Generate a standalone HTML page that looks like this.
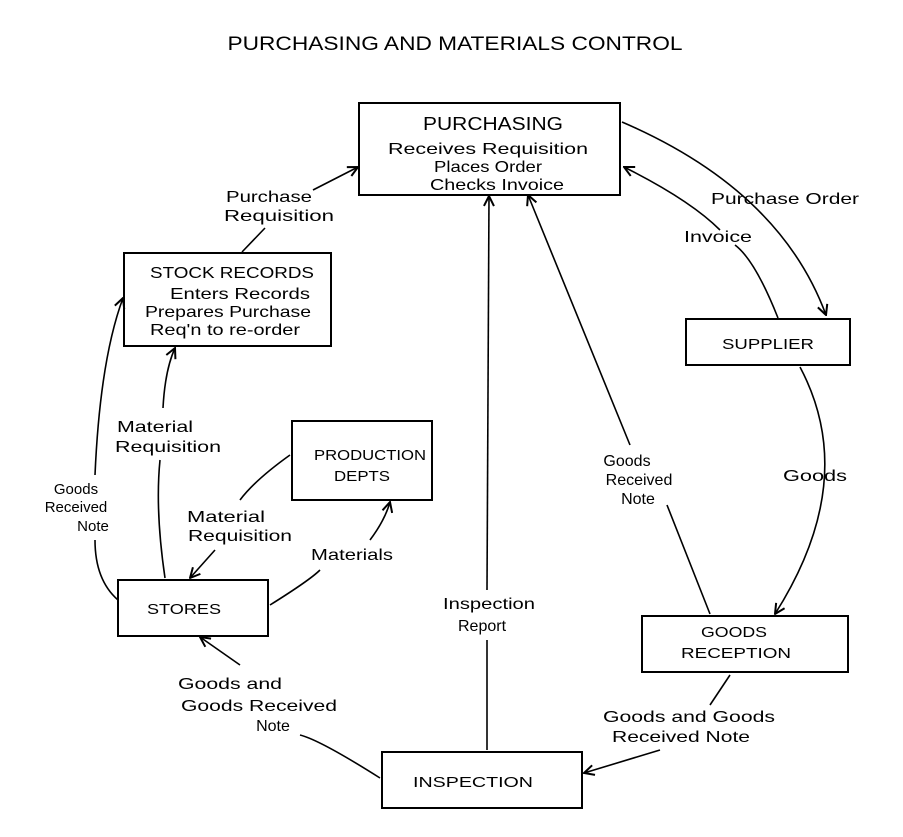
<!DOCTYPE html>
<html><head><meta charset="utf-8"><style>
html,body{margin:0;padding:0;background:#fff;}
svg{display:block;}
text{font-family:"Liberation Sans",sans-serif;fill:#000;}
</style></head><body>
<svg width="903" height="837" viewBox="0 0 903 837" xmlns="http://www.w3.org/2000/svg">
<defs>
<marker id="a" viewBox="0 0 12 12" refX="11" refY="6" markerWidth="12" markerHeight="12" markerUnits="userSpaceOnUse" orient="auto">
<path d="M1,1 L11,6 L1,11" fill="none" stroke="#000" stroke-width="2"/>
</marker>
</defs>
<g fill="none" stroke="#000" stroke-width="2">
<rect x="359" y="103" width="261" height="92"/>
<rect x="124" y="253" width="207" height="93"/>
<rect x="686" y="319" width="164" height="46"/>
<rect x="292" y="421" width="140" height="79"/>
<rect x="118" y="580" width="150" height="56"/>
<rect x="642" y="616" width="206" height="56"/>
<rect x="382" y="752" width="200" height="56"/>
</g>
<g fill="none" stroke="#000" stroke-width="1.6">
<path d="M242,252 L265,228" />
<path d="M313,190 L358,167" marker-end="url(#a)"/>
<path d="M622,122 Q780,190 826,315" marker-end="url(#a)"/>
<path d="M778,318 Q755,260 735,245 M720,230 Q690,200 624,167" marker-end="url(#a)"/>
<path d="M800,367 Q860,480 775,614" marker-end="url(#a)"/>
<path d="M710,614 L667,505"/>
<path d="M630,445 L528,195" marker-end="url(#a)"/>
<path d="M487,750 L487,640"/>
<path d="M487,590 L489,196" marker-end="url(#a)"/>
<path d="M730,675 L710,705"/>
<path d="M660,750 L584,773" marker-end="url(#a)"/>
<path d="M380,778 Q320,740 300,735"/>
<path d="M240,665 L200,637" marker-end="url(#a)"/>
<path d="M270,605 Q310,580 320,570 M370,540 Q385,520 390,502" marker-end="url(#a)"/>
<path d="M290,455 Q255,480 240,500"/>
<path d="M215,550 L190,578" marker-end="url(#a)"/>
<path d="M165,578 Q155,510 160,460"/>
<path d="M163,408 Q165,370 175,348" marker-end="url(#a)"/>
<path d="M118,600 Q95,580 95,540"/>
<path d="M95,475 Q100,360 123,298" marker-end="url(#a)"/>
</g>
<g font-size="16" text-anchor="middle">
<text x="455" y="50" font-size="19" textLength="455" lengthAdjust="spacingAndGlyphs">PURCHASING AND MATERIALS CONTROL</text>
<text x="493" y="130" font-size="18" textLength="140" lengthAdjust="spacingAndGlyphs">PURCHASING</text>
<text x="488" y="154" textLength="200" lengthAdjust="spacingAndGlyphs">Receives Requisition</text>
<text x="488" y="172" textLength="108" lengthAdjust="spacingAndGlyphs">Places Order</text>
<text x="497" y="190" textLength="134" lengthAdjust="spacingAndGlyphs">Checks Invoice</text>
<text x="232" y="278" textLength="164" lengthAdjust="spacingAndGlyphs">STOCK RECORDS</text>
<text x="240" y="299" textLength="140" lengthAdjust="spacingAndGlyphs">Enters Records</text>
<text x="228" y="317" textLength="166" lengthAdjust="spacingAndGlyphs">Prepares Purchase</text>
<text x="225" y="335" textLength="150" lengthAdjust="spacingAndGlyphs">Req'n to re-order</text>
<text x="768" y="349" font-size="15" textLength="92" lengthAdjust="spacingAndGlyphs">SUPPLIER</text>
<text x="370" y="460" font-size="15" textLength="112" lengthAdjust="spacingAndGlyphs">PRODUCTION</text>
<text x="362" y="481" font-size="15" textLength="56" lengthAdjust="spacingAndGlyphs">DEPTS</text>
<text x="184" y="614" font-size="15" textLength="74" lengthAdjust="spacingAndGlyphs">STORES</text>
<text x="734" y="637" font-size="15" textLength="66" lengthAdjust="spacingAndGlyphs">GOODS</text>
<text x="736" y="658" font-size="15" textLength="110" lengthAdjust="spacingAndGlyphs">RECEPTION</text>
<text x="473" y="787" font-size="15" textLength="120" lengthAdjust="spacingAndGlyphs">INSPECTION</text>
<text x="269" y="202" textLength="86" lengthAdjust="spacingAndGlyphs">Purchase</text>
<text x="279" y="221" textLength="110" lengthAdjust="spacingAndGlyphs">Requisition</text>
<text x="785" y="204" textLength="148" lengthAdjust="spacingAndGlyphs">Purchase Order</text>
<text x="718" y="242" textLength="68" lengthAdjust="spacingAndGlyphs">Invoice</text>
<text x="815" y="481" textLength="64" lengthAdjust="spacingAndGlyphs">Goods</text>
<text x="627" y="466">Goods</text>
<text x="639" y="485">Received</text>
<text x="638" y="504">Note</text>
<text x="489" y="609" textLength="92" lengthAdjust="spacingAndGlyphs">Inspection</text>
<text x="482" y="631">Report</text>
<text x="689" y="722" textLength="172" lengthAdjust="spacingAndGlyphs">Goods and Goods</text>
<text x="681" y="742" textLength="138" lengthAdjust="spacingAndGlyphs">Received Note</text>
<text x="230" y="689" textLength="104" lengthAdjust="spacingAndGlyphs">Goods and</text>
<text x="259" y="711" textLength="156" lengthAdjust="spacingAndGlyphs">Goods Received</text>
<text x="273" y="731">Note</text>
<text x="352" y="560" textLength="82" lengthAdjust="spacingAndGlyphs">Materials</text>
<text x="226" y="522" textLength="78" lengthAdjust="spacingAndGlyphs">Material</text>
<text x="240" y="541" textLength="104" lengthAdjust="spacingAndGlyphs">Requisition</text>
<text x="155" y="432" textLength="76" lengthAdjust="spacingAndGlyphs">Material</text>
<text x="168" y="452" textLength="106" lengthAdjust="spacingAndGlyphs">Requisition</text>
<text x="76" y="494" font-size="15">Goods</text>
<text x="76" y="512" font-size="15">Received</text>
<text x="93" y="531" font-size="15">Note</text>
</g>
</svg>
</body></html>
